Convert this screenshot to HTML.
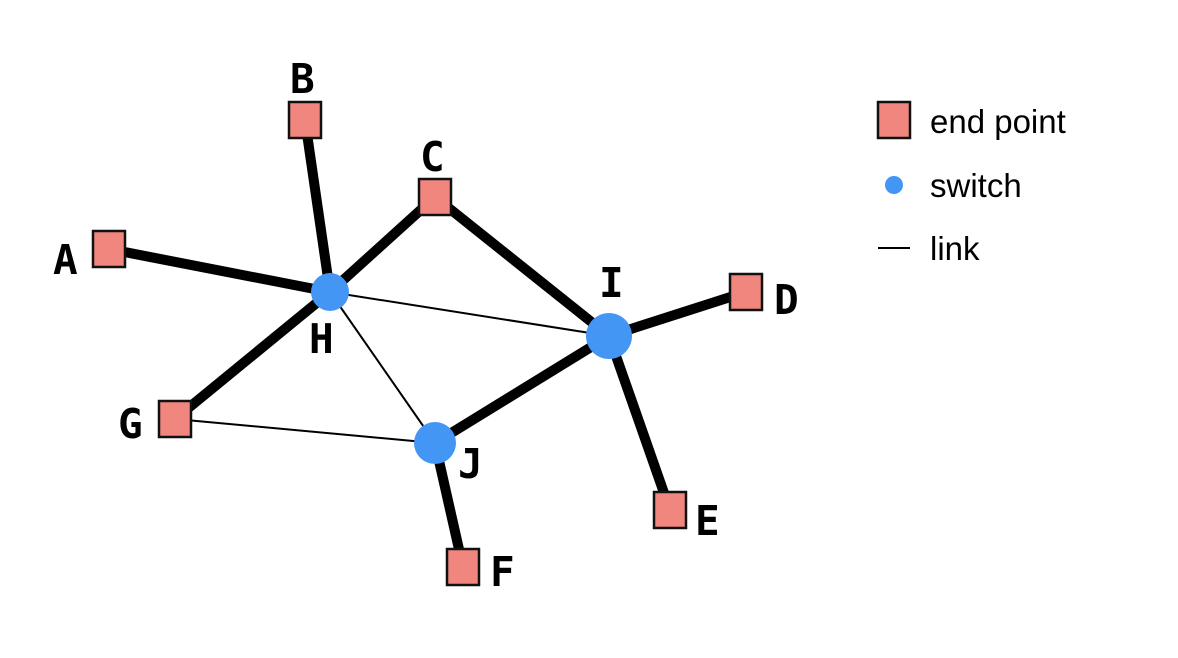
<!DOCTYPE html>
<html><head><meta charset="utf-8"><style>
html,body{margin:0;padding:0;background:#fff;width:1178px;height:658px;overflow:hidden}
svg{display:block}
.l{font-family:"DejaVu Sans Mono","Liberation Mono",monospace;font-weight:bold;font-size:41px;fill:#000}
.g{font-family:"Liberation Sans",sans-serif;font-size:33px;fill:#000}
</style></head><body>
<svg width="1178" height="658" viewBox="0 0 1178 658" xmlns="http://www.w3.org/2000/svg">
<g stroke="#000" stroke-width="10" stroke-linecap="butt">
<line x1="109" y1="249" x2="330" y2="292"/>
<line x1="305" y1="120" x2="330" y2="292"/>
<line x1="435" y1="197" x2="330" y2="292"/>
<line x1="435" y1="197" x2="609" y2="336"/>
<line x1="746" y1="292" x2="609" y2="336"/>
<line x1="670" y1="510" x2="609" y2="336"/>
<line x1="435" y1="443" x2="609" y2="336"/>
<line x1="463" y1="567" x2="435" y2="443"/>
<line x1="175" y1="419" x2="330" y2="292"/>
</g>
<g stroke="#000" stroke-width="2">
<line x1="330" y1="292" x2="609" y2="336"/>
<line x1="330" y1="292" x2="435" y2="443"/>
<line x1="175" y1="419" x2="435" y2="443"/>
</g>
<g fill="#F0867E" stroke="#111" stroke-width="2.5">
<rect x="289" y="102" width="32" height="36"/>
<rect x="419" y="179" width="32" height="36"/>
<rect x="93" y="231" width="32" height="36"/>
<rect x="159" y="401" width="32" height="36"/>
<rect x="730" y="274" width="32" height="36"/>
<rect x="654" y="492" width="32" height="36"/>
<rect x="447" y="549" width="32" height="36"/>
<rect x="878" y="102" width="32" height="36"/>
</g>
<g fill="#4496F5">
<circle cx="330" cy="292" r="19"/>
<circle cx="609" cy="336" r="23"/>
<circle cx="435" cy="443" r="21"/>
<circle cx="894" cy="185" r="9"/>
</g>
<line x1="878" y1="248" x2="910" y2="248" stroke="#000" stroke-width="2"/>
<text class="l" x="290" y="93">B</text>
<text class="l" x="420" y="171">C</text>
<text class="l" x="53" y="274">A</text>
<text class="l" x="118" y="438">G</text>
<text class="l" x="309" y="353">H</text>
<text class="l" x="599" y="297">I</text>
<text class="l" x="774" y="314">D</text>
<text class="l" x="695" y="535">E</text>
<text class="l" x="490" y="586">F</text>
<text class="l" x="458" y="478">J</text>
<text class="g" x="930" y="133">end point</text>
<text class="g" x="930" y="197">switch</text>
<text class="g" x="930" y="260">link</text>
</svg>
</body></html>
